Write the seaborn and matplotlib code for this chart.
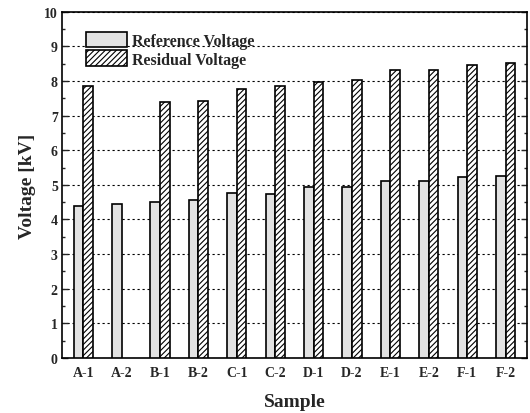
import numpy as np
import pandas as pd
import matplotlib
matplotlib.use("Agg")
import matplotlib.pyplot as plt
import seaborn as sns
from matplotlib.ticker import MultipleLocator

samples = ["A-1", "A-2", "B-1", "B-2", "C-1", "C-2", "D-1", "D-2", "E-1", "E-2", "F-1", "F-2"]
reference_kv = [4.40, 4.45, 4.50, 4.55, 4.78, 4.75, 4.93, 4.95, 5.12, 5.12, 5.22, 5.25]
residual_kv = [7.85, np.nan, 7.40, 7.42, 7.78, 7.85, 7.98, 8.02, 8.33, 8.33, 8.47, 8.52]
series_names = ["Reference Voltage", "Residual Voltage"]

df = pd.DataFrame({
    "Sample": samples * 2,
    "Voltage": reference_kv + residual_kv,
    "Type": [series_names[0]] * len(samples) + [series_names[1]] * len(samples),
})

sns.set_theme(style="white")
plt.rcParams["font.family"] = ["Liberation Serif", "DejaVu Serif"]
plt.rcParams["font.weight"] = "bold"
plt.rcParams["hatch.linewidth"] = 0.8

fig = plt.figure(figsize=(5.30, 4.14), dpi=100)
ax = fig.add_axes([0.117, 0.133, 0.877, 0.836])

sns.barplot(data=df, x="Sample", y="Voltage", hue="Type", order=samples,
            hue_order=series_names, width=0.5, ax=ax, errorbar=None,
            palette=["#e2e2e2", "white"], edgecolor="black", linewidth=1.2,
            saturation=1, zorder=3)

hatches = [None, "//////"]

for cont, h in zip(ax.containers, hatches):
    for p in cont.patches:
        p.set_hatch(h)

ax.set_ylim(0, 10)
ax.set_xlim(-0.55, len(samples) - 0.45)
ax.yaxis.set_major_locator(MultipleLocator(1))
ax.yaxis.set_minor_locator(MultipleLocator(0.5))
ax.tick_params(axis="y", which="major", direction="in", length=4, width=1,
               right=True, left=True, labelsize=10, pad=3)
ax.tick_params(axis="y", which="minor", direction="in", length=2, width=1,
               right=True, left=True)
ax.tick_params(axis="x", which="both", length=0, labelsize=10, pad=6)
for lab in ax.get_xticklabels() + ax.get_yticklabels():
    lab.set_fontweight("bold")

ax.yaxis.grid(True, which="major", linestyle=(0, (2, 2.5)), color="black",
              linewidth=0.8, zorder=0)
ax.set_axisbelow(True)

for s in ax.spines.values():
    s.set_color("black")
    s.set_linewidth(1.2)

ax.set_xlabel("Sample", fontsize=14, fontweight="bold", labelpad=10)
ax.set_ylabel("Voltage [kV]", fontsize=14, fontweight="bold", labelpad=6)

leg = ax.legend(loc="upper left", bbox_to_anchor=(0.03, 0.97), frameon=False,
                prop={"family": "Liberation Serif", "weight": "bold", "size": 11.5},
                handlelength=2.6, handleheight=1.1, labelspacing=0.1,
                handletextpad=0.3, borderaxespad=0.2)
for hnd, h in zip(leg.legend_handles, hatches):
    hnd.set_hatch(h)

fig.savefig("out.png", dpi=100)
